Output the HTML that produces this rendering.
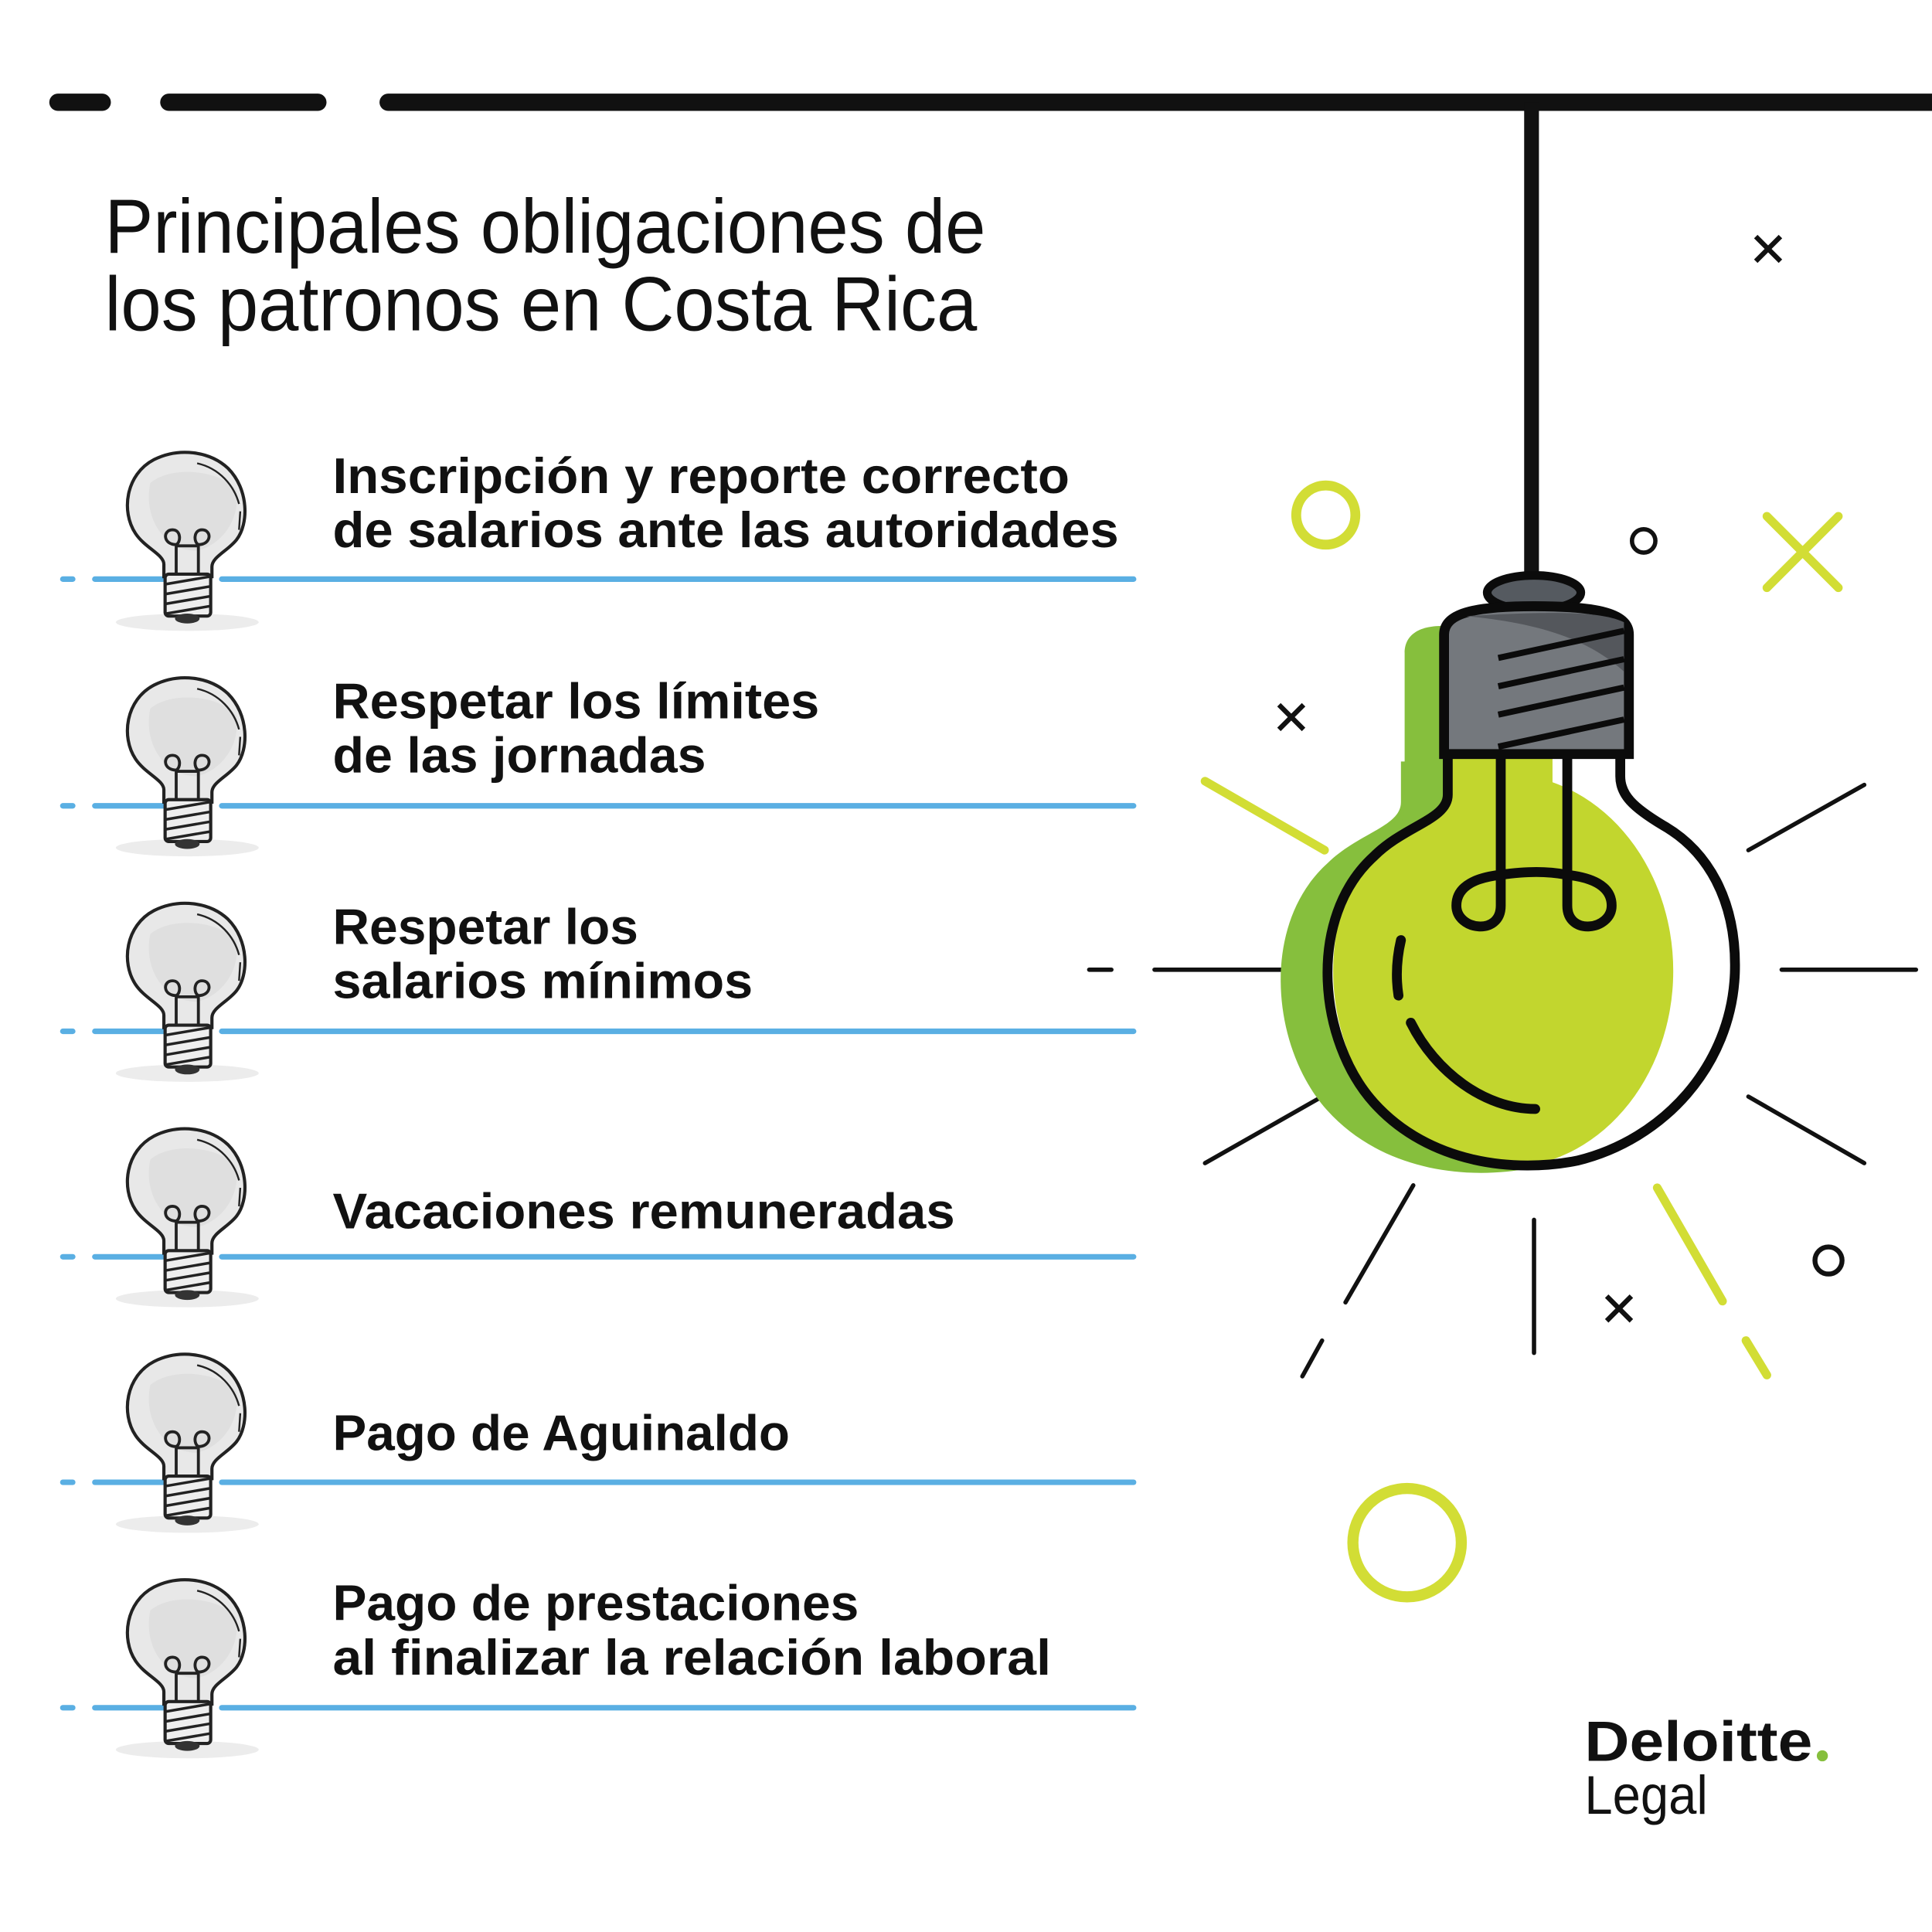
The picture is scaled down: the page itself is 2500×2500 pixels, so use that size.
<!DOCTYPE html>
<html><head><meta charset="utf-8"><style>
html,body{margin:0;padding:0;background:#fff}
svg{display:block}
.t{font-family:"Liberation Sans",sans-serif;font-size:62px;fill:#111}
.b{font-family:"Liberation Sans",sans-serif;font-weight:bold;font-size:41px;fill:#111}
</style></head><body>
<svg width="2500" height="2500" viewBox="0 0 1568 1568" xmlns="http://www.w3.org/2000/svg">
<defs>
<g id="sb">
<ellipse cx="152" cy="505" rx="58" ry="7" fill="#ececec"/>
<path d="M133 468 L133 458 C133 450 118 445 110 433 C98 415 102 385 125 373 C145 363 170 366 185 380 C202 397 202 425 192 438 C185 447 172 452 172 460 L172 468 Z" fill="#e8e8e8" stroke="#222" stroke-width="2.6"/>
<path d="M122 392 C116 420 133 447 160 447 C180 442 195 422 192 398 C180 382 140 377 122 392Z" fill="#d9d9d9" opacity=".6"/>
<path d="M160 376 C178 380 190 394 194 409" fill="none" stroke="#222" stroke-width="1.5"/>
<path d="M195 415 L194 430" fill="none" stroke="#222" stroke-width="1.5"/>
<path d="M143 468 L143 442 M161 468 L161 442 M143 442 C132 442 132 430 140 430 C147 430 147 440 143 442 M161 442 C172 442 172 430 164 430 C157 430 157 440 161 442 M143 443 L161 443" fill="none" stroke="#222" stroke-width="2.4"/>
<rect x="134" y="466" width="37" height="34" rx="3" fill="#eee" stroke="#222" stroke-width="2.6"/>
<path d="M135 474 L170 468 M135 482 L170 476 M135 490 L170 484 M135 498 L170 492" stroke="#222" stroke-width="2.2"/>
<ellipse cx="152" cy="502" rx="10" ry="4" fill="#333"/>
</g>
<path id="bp" d="M1175 612 L1175 645 C1175 665 1140 670 1115 695 C1060 745 1070 845 1115 895 C1160 945 1230 952 1280 942 C1350 925 1405 865 1408 790 C1410 730 1385 690 1350 670 C1325 655 1315 645 1315 630 L1315 612 Z"/>
<clipPath id="bc"><use href="#bp"/></clipPath>
</defs>

<g stroke="#111" stroke-width="14" stroke-linecap="round">
<line x1="47" y1="83" x2="83" y2="83"/><line x1="137" y1="83" x2="258" y2="83"/><line x1="315" y1="83" x2="1580" y2="83"/>
</g>
<line x1="1243" y1="83" x2="1243" y2="470" stroke="#111" stroke-width="12"/>

<text class="t" x="85" y="205" textLength="715" lengthAdjust="spacingAndGlyphs">Principales obligaciones de</text>
<text class="t" x="85" y="268" textLength="708" lengthAdjust="spacingAndGlyphs">los patronos en Costa Rica</text>

<g stroke="#5aafe3" stroke-width="4.5" stroke-linecap="round">
<line x1="51" y1="470" x2="59" y2="470"/><line x1="77" y1="470" x2="134" y2="470"/><line x1="180" y1="470" x2="920" y2="470"/>
<line x1="51" y1="654" x2="59" y2="654"/><line x1="77" y1="654" x2="134" y2="654"/><line x1="180" y1="654" x2="920" y2="654"/>
<line x1="51" y1="837" x2="59" y2="837"/><line x1="77" y1="837" x2="134" y2="837"/><line x1="180" y1="837" x2="920" y2="837"/>
<line x1="51" y1="1020" x2="59" y2="1020"/><line x1="77" y1="1020" x2="134" y2="1020"/><line x1="180" y1="1020" x2="920" y2="1020"/>
<line x1="51" y1="1203" x2="59" y2="1203"/><line x1="77" y1="1203" x2="134" y2="1203"/><line x1="180" y1="1203" x2="920" y2="1203"/>
<line x1="51" y1="1386" x2="59" y2="1386"/><line x1="77" y1="1386" x2="134" y2="1386"/><line x1="180" y1="1386" x2="920" y2="1386"/>
</g>
<use href="#sb"/>
<use href="#sb" y="183"/>
<use href="#sb" y="366"/>
<use href="#sb" y="549"/>
<use href="#sb" y="732"/>
<use href="#sb" y="915"/>

<text class="b" x="270" y="400" textLength="598" lengthAdjust="spacingAndGlyphs">Inscripción y reporte correcto</text>
<text class="b" x="270" y="444" textLength="638" lengthAdjust="spacingAndGlyphs">de salarios ante las autoridades</text>
<text class="b" x="270" y="583" textLength="395" lengthAdjust="spacingAndGlyphs">Respetar los límites</text>
<text class="b" x="270" y="627" textLength="303" lengthAdjust="spacingAndGlyphs">de las jornadas</text>
<text class="b" x="270" y="766" textLength="248" lengthAdjust="spacingAndGlyphs">Respetar los</text>
<text class="b" x="270" y="810" textLength="341" lengthAdjust="spacingAndGlyphs">salarios mínimos</text>
<text class="b" x="270" y="997" textLength="505" lengthAdjust="spacingAndGlyphs">Vacaciones remuneradas</text>
<text class="b" x="270" y="1177" textLength="371" lengthAdjust="spacingAndGlyphs">Pago de Aguinaldo</text>
<text class="b" x="270" y="1315" textLength="427" lengthAdjust="spacingAndGlyphs">Pago de prestaciones</text>
<text class="b" x="270" y="1359" textLength="583" lengthAdjust="spacingAndGlyphs">al finalizar la relación laboral</text>

<g stroke="#111" stroke-width="3.5" stroke-linecap="round">
<line x1="884" y1="787" x2="902" y2="787"/><line x1="937" y1="787" x2="1040" y2="787"/>
<line x1="1446" y1="787" x2="1555" y2="787"/>
<line x1="1419" y1="690" x2="1513" y2="637"/>
<line x1="1419" y1="890" x2="1513" y2="944"/>
<line x1="978" y1="944" x2="1073" y2="890"/>
<line x1="1245" y1="990" x2="1245" y2="1098"/>
<line x1="1147" y1="962" x2="1092" y2="1057"/>
<line x1="1073" y1="1088" x2="1057" y2="1117"/>
</g>
<g stroke="#d2dd35" stroke-width="7" stroke-linecap="round" fill="none">
<line x1="978" y1="634" x2="1075" y2="690"/>
<line x1="1345" y1="964" x2="1398" y2="1056"/>
<line x1="1417" y1="1088" x2="1434" y2="1116"/>
<circle cx="1076" cy="418" r="24" stroke-width="8"/>
<circle cx="1142" cy="1252" r="44" stroke-width="9"/>
<line x1="1434" y1="419" x2="1492" y2="477"/><line x1="1492" y1="419" x2="1434" y2="477"/>
</g>
<g stroke="#111" stroke-width="4" fill="none">
<circle cx="1334" cy="439" r="9.5" stroke-width="3.5"/>
<circle cx="1484" cy="1023" r="11" stroke-width="4"/>
<path d="M1425 192 L1445 212 M1445 192 L1425 212"/>
<path d="M1038 572 L1058 592 M1058 572 L1038 592"/>
<path d="M1304 1052 L1324 1072 M1324 1052 L1304 1072"/>
</g>

<g fill="#86bf3d">
<use href="#bp" transform="translate(-38,6)"/>
<path d="M1140 645 L1140 530 C1140 515 1152 508 1170 508 L1200 508 L1200 650 L1130 680 C1140 668 1140 660 1140 645 Z"/>
</g>
<use href="#bp" fill="#fff"/>
<g clip-path="url(#bc)">
<ellipse cx="1220" cy="788" rx="138" ry="160" fill="#c2d62e"/>
<rect x="1175" y="600" width="85" height="70" fill="#c2d62e"/>
</g>
<path d="M1175 612 L1175 645 C1175 665 1140 670 1115 695 C1060 745 1070 845 1115 895 C1160 945 1230 952 1280 942 C1350 925 1405 865 1408 790 C1410 730 1385 690 1350 670 C1325 655 1315 645 1315 630 L1315 612" fill="none" stroke="#0b0b0b" stroke-width="8"/>
<path d="M1218 612 L1218 735 C1218 760 1182 755 1182 735 C1182 718 1200 712 1218 710 C1240 707 1255 707 1272 710 C1290 712 1308 718 1308 735 C1308 755 1272 760 1272 735 L1272 612" fill="none" stroke="#0b0b0b" stroke-width="8"/>
<path d="M1137 763 C1133 780 1133 795 1135 808" fill="none" stroke="#0b0b0b" stroke-width="8" stroke-linecap="round"/>
<path d="M1145 830 C1165 870 1205 900 1246 900" fill="none" stroke="#0b0b0b" stroke-width="8" stroke-linecap="round"/>
<ellipse cx="1245" cy="481" rx="38" ry="14" fill="#555a60" stroke="#0b0b0b" stroke-width="7"/>
<path d="M1172 612 L1172 515 C1172 498 1195 492 1245 492 C1298 492 1322 498 1322 515 L1322 612 Z" fill="#74787d" stroke="#0b0b0b" stroke-width="8"/>
<path d="M1190 500 C1240 505 1285 515 1318 545 L1318 505 C1300 496 1260 496 1190 500Z" fill="#54575c"/>
<g stroke="#0b0b0b" stroke-width="5">
<line x1="1216" y1="534" x2="1318" y2="512"/>
<line x1="1216" y1="557" x2="1318" y2="535"/>
<line x1="1216" y1="580" x2="1318" y2="558"/>
<line x1="1216" y1="606" x2="1318" y2="584"/>
</g>

<text x="1286" y="1429" font-family="Liberation Sans,sans-serif" font-weight="bold" font-size="46" fill="#111" textLength="185" lengthAdjust="spacingAndGlyphs">Deloitte</text>
<circle cx="1479" cy="1425" r="4.5" fill="#86bf3d"/>
<text x="1286" y="1472" font-family="Liberation Sans,sans-serif" font-size="44" fill="#111" textLength="100" lengthAdjust="spacingAndGlyphs">Legal</text>
</svg>
</body></html>
